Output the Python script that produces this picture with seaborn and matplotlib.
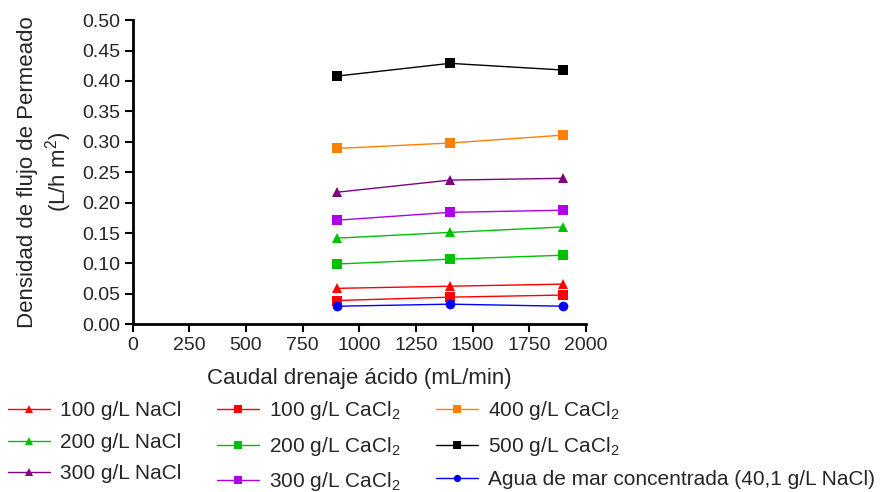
import numpy as np
import pandas as pd
import matplotlib
matplotlib.use("Agg")
import matplotlib.pyplot as plt
import seaborn as sns

# Datos
caudal = [900, 1400, 1900]

series = [
    "100 g/L NaCl", "200 g/L NaCl", "300 g/L NaCl",
    "100 g/L CaCl$_2$", "200 g/L CaCl$_2$", "300 g/L CaCl$_2$",
    "400 g/L CaCl$_2$", "500 g/L CaCl$_2$",
    "Agua de mar concentrada (40,1 g/L NaCl)",
]

nacl_100 = [0.059, 0.0625, 0.066]
nacl_200 = [0.1415, 0.151, 0.160]
nacl_300 = [0.217, 0.237, 0.240]
cacl2_100 = [0.039, 0.0445, 0.048]
cacl2_200 = [0.099, 0.107, 0.1135]
cacl2_300 = [0.171, 0.184, 0.1875]
cacl2_400 = [0.289, 0.298, 0.311]
cacl2_500 = [0.408, 0.429, 0.418]
agua_mar = [0.0296, 0.033, 0.0296]

valores = [nacl_100, nacl_200, nacl_300, cacl2_100, cacl2_200, cacl2_300,
           cacl2_400, cacl2_500, agua_mar]

colores = ["#FF0000", "#00C000", "#800080", "#FF0000", "#00C000", "#B000E8",
           "#FF8000", "#000000", "#0000FF"]
marcadores = ["^", "^", "^", "s", "s", "s", "s", "s", "o"]

# Prepara el dataframe
filas = []
for nombre, vals in zip(series, valores):
    for x, y in zip(caudal, vals):
        filas.append({"caudal": x, "flujo": y, "serie": nombre})
df = pd.DataFrame(filas)

sns.set_style("ticks")
plt.rcParams["font.family"] = ["Liberation Sans", "DejaVu Sans"]
plt.rcParams["mathtext.fontset"] = "custom"
plt.rcParams["mathtext.rm"] = "Liberation Sans"
plt.rcParams["mathtext.it"] = "Liberation Sans"

fig = plt.figure(figsize=(8.85, 4.92), dpi=100)
ax = fig.add_axes([0.150, 0.341, 0.512, 0.618])

sns.lineplot(data=df, x="caudal", y="flujo", hue="serie", style="serie",
             hue_order=series, style_order=series,
             palette=dict(zip(series, colores)),
             markers=dict(zip(series, marcadores)), dashes=False,
             markersize=7, markeredgewidth=0, linewidth=1, ax=ax)

ax.set_xlim(0, 2000)
ax.set_ylim(0, 0.5)
ax.set_xticks(np.arange(0, 2001, 250))
ax.set_yticks(np.arange(0, 0.501, 0.05))
ax.yaxis.set_major_formatter(matplotlib.ticker.FormatStrFormatter("%.2f"))
ax.tick_params(labelsize=14, width=1.5, length=6, color="black", pad=3)
for lado in ["left", "bottom"]:
    ax.spines[lado].set_linewidth(2)
    ax.spines[lado].set_color("black")
sns.despine(ax=ax)

ax.set_xlabel("Caudal drenaje ácido (mL/min)", fontsize=16, labelpad=10)
ax.set_ylabel("Densidad de flujo de Permeado\n(L/h m$^2$)", fontsize=16, labelpad=6)

handles, labels = ax.get_legend_handles_labels()
ax.get_legend().remove()
fig.legend(handles, labels, ncol=3, loc="upper left", bbox_to_anchor=(0.0, 0.205),
           borderaxespad=0, frameon=False, fontsize=15, handlelength=2.0,
           columnspacing=1.7, labelspacing=0.6, handletextpad=0.5,
           markerscale=0.75)

fig.savefig("out.png", dpi=100)
